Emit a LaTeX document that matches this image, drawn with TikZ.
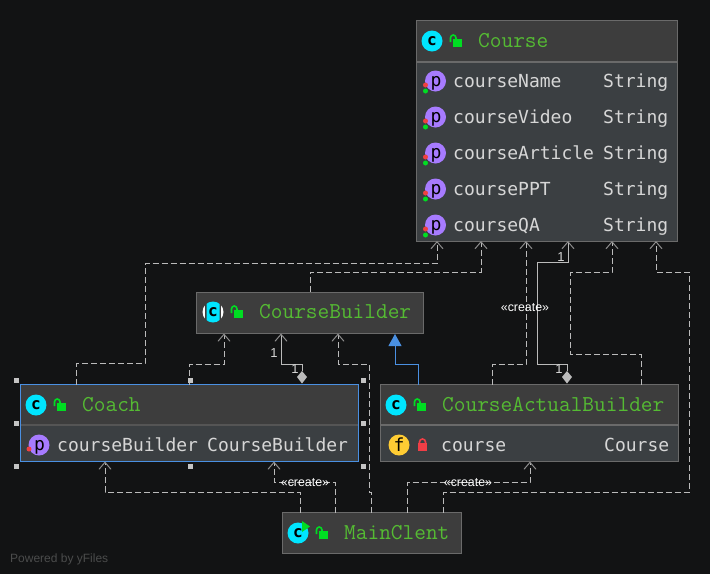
\documentclass[tikz,border=0pt]{standalone}
\usepackage{fontspec}
\setmainfont{Liberation Sans}
\newfontfamily\memberfont{DejaVu Sans Mono}
\usetikzlibrary{arrows.meta}
\definecolor{bgc}{HTML}{121314}
\definecolor{headc}{HTML}{3D3D3D}
\definecolor{bodyc}{HTML}{3B3F42}
\definecolor{edgec}{HTML}{6A6A6A}
\definecolor{linec}{HTML}{BBBBBB}
\definecolor{tipc}{HTML}{8C8C8C}
\definecolor{titlec}{HTML}{55BB33}
\definecolor{memc}{HTML}{D6D6D6}
\definecolor{selc}{HTML}{4A90E2}
\definecolor{cyanc}{HTML}{00E5FF}
\definecolor{purpc}{HTML}{A77BFF}
\definecolor{yelc}{HTML}{FFCC33}
\definecolor{lockg}{HTML}{00DD22}
\definecolor{lockr}{HTML}{F03E46}
\definecolor{dotr}{HTML}{F04040}
\definecolor{handc}{HTML}{C4C4C4}
\tikzset{
  classhead/.style={draw=edgec,fill=headc,line width=1pt,inner sep=0pt,outer sep=0pt,anchor=north west},
  titletext/.style={font=\ttfamily\fontsize{22.7}{24}\selectfont,text=titlec,anchor=base west,inner sep=0pt},
  memtext/.style={font=\memberfont\fontsize{18}{20}\selectfont,text=memc,anchor=base west,inner sep=0pt},
  icontext/.style={font=\memberfont\fontsize{18}{20}\selectfont,text=black,inner sep=0pt,anchor=base},
  iconc/.style={font=\memberfont\bfseries\fontsize{16}{17}\selectfont,text=black,inner sep=0pt,anchor=base},
  dep/.style={draw=linec,line width=1pt,dash pattern=on 6pt off 3pt,-{Straight Barb[length=7pt,width=12pt,color=tipc,line width=1pt]}},
  assoc/.style={draw=linec,line width=1pt,-{Straight Barb[length=7pt,width=12pt,color=tipc,line width=1pt]}},
  inherit/.style={draw=selc,line width=1pt,-{Triangle[length=12pt,width=13pt,color=selc]}},
  diam/.style={fill=linec,draw=none},
  numlabel/.style={font=\fontsize{13}{14}\selectfont,text=memc,inner sep=0pt},
  stereo/.style={font=\fontsize{12.4}{13}\selectfont,text=white,inner sep=0pt},
  handle/.style={fill=handc,draw=none,minimum size=5pt,inner sep=0pt},
}
\newcommand{\lockopen}[2]{%
  \draw[lockg,line width=1.6pt] (#1+18.5,#2+1) -- (#1+18.5,#2-3) arc[start angle=180,end angle=0,x radius=2.75pt,y radius=3pt] -- (#1+24,#2-1);
  \fill[lockg] (#1+21,#2-2) rectangle (#1+29.5,#2+6);
}
\newcommand{\classicon}[3]{%
  \fill[cyanc] (#2,#3) circle[radius=10.5pt];
  \node[iconc] (#1) at (#2,#3+4) {c};
  \lockopen{#2}{#3}
}
\newcommand{\propicon}[3]{%
  \fill[purpc] (#2,#3) circle[radius=10.5pt];
  \node[icontext] (#1) at (#2+.5,#3+5) {p};
  \fill[dotr] (#2-10,#3+4) circle[radius=2.5pt];
}
\newcommand{\greendot}[2]{\fill[lockg] (#1-10,#2+10) circle[radius=2.5pt];}
\begin{document}
\begin{tikzpicture}[x=1pt,y=-1pt]
\useasboundingbox (0,0) rectangle (710,574);
\fill[bgc] (0,0) rectangle (710,574);

% class boxes
\node[classhead,minimum width=261pt,minimum height=220.5pt,fill=bodyc] (course) at (416.5,20.5) {};
\fill[headc] (417.2,21.2) rectangle (676.8,61);
\draw[edgec,line width=1.6pt] (416.5,62) -- (677.5,62);
\node[classhead,minimum width=227pt,minimum height=41.5pt] (builder) at (196.5,292) {};
\node[classhead,minimum width=338pt,minimum height=77pt,fill=bodyc,draw=selc] (coach) at (20.5,384.5) {};
\fill[headc] (21.2,385.2) rectangle (357.8,424);
\draw[edgec!80!black,line width=1.6pt] (21.2,425) -- (357.8,425);
\node[classhead,minimum width=298pt,minimum height=77pt,fill=bodyc] (actual) at (380.5,384.5) {};
\fill[headc] (381.2,385.2) rectangle (677.8,424);
\draw[edgec,line width=1.6pt] (381.2,425) -- (678,425);
\node[classhead,minimum width=179pt,minimum height=41pt] (mainc) at (282,512.5) {};

% connectors
\draw[dep] ([xshift=55.5pt]coach.north west) -- (76,363.5) -- (145,363.5) -- (145,263) -- (437,263) -- ([xshift=20.5pt]course.south west);
\draw[dep] ([xshift=113.5pt]builder.north west) -- (310,272) -- (481,272) -- ([xshift=64.5pt]course.south west);
\draw[dep] ([xshift=168.5pt]coach.north west) -- (189,364) -- (224,364) -- ([xshift=27.5pt]builder.south west);
\draw[assoc] (302,371) -- (302,364) -- (281,364) -- ([xshift=84.5pt]builder.south west);
\fill[diam] (302,371) -- (307,377) -- (302,383.5) -- (297,377) -- cycle;
\draw[dep] ([xshift=89pt]mainc.north west) -- (371,492) -- (369,492) -- (369,364) -- (338,364) -- ([xshift=141.5pt]builder.south west);
\draw[inherit] ([xshift=37.5pt]actual.north west) -- (418,364) -- (395,364) -- ([xshift=198.5pt,yshift=-0.5pt]builder.south west);
\draw[dep] ([xshift=111.5pt]actual.north west) -- (492,364) -- (526,364) -- ([xshift=109.5pt]course.south west);
\draw[assoc] (567,371) -- (567,364) -- (537,364) -- (537,262) -- (568,262) -- ([xshift=151.5pt]course.south west);
\fill[diam] (567,371) -- (572,377) -- (567,383.5) -- (562,377) -- cycle;
\draw[dep] ([xshift=260.5pt]actual.north west) -- (641,354) -- (570,354) -- (570,272) -- (612,272) -- ([xshift=195.5pt]course.south west);
\draw[dep] ([xshift=161pt]mainc.north west) -- (443,492) -- (689,492) -- (689,272) -- (656,272) -- ([xshift=239.5pt]course.south west);
\draw[dep] ([xshift=125pt]mainc.north west) -- (407,482) -- (530,482) -- ([xshift=149.5pt]actual.south west);
\draw[dep] ([xshift=18.5pt]mainc.north west) -- (300.5,492) -- (105,492) -- ([xshift=84.5pt]coach.south west);
\draw[dep] ([xshift=53pt]mainc.north west) -- (335,482) -- (274,482) -- ([xshift=253.5pt]coach.south west);

% connector labels
\node[numlabel] (n1) at (274,353) {1};
\node[numlabel] (n2) at (295,369) {1};
\node[numlabel] (n3) at (561,257) {1};
\node[numlabel] (n4) at (559,369) {1};
\node[stereo] (s1) at (525,308) {«create»};
\node[stereo] (s2) at (305,483) {«create»};
\node[stereo] (s3) at (468,483) {«create»};

% Course
\classicon{ic1}{432}{41}
\node[titletext] (t1) at (478,47) {Course};
\foreach \yy/\nm in {81/courseName,117/courseVideo,153/courseArticle,189/coursePPT,225/courseQA}{
  \propicon{ip\yy}{435.5}{\yy}
  \greendot{435.5}{\yy}
  \node[memtext] at (453,\yy+6) {\nm};
  \node[memtext] at (603,\yy+6) {String};
}

% CourseBuilder
\fill[white] (213,312) circle[radius=10.5pt];
\fill[headc] (205,301) rectangle (221,323);
\begin{scope}
  \clip (206.5,300) rectangle (219.5,324);
  \fill[cyanc] (213,312) circle[radius=10.5pt];
\end{scope}
\node[iconc] (ic2) at (213,316) {c};
\lockopen{213}{312}
\node[titletext] (t2) at (259,318) {CourseBuilder};

% Coach
\classicon{ic3}{36}{405}
\node[titletext] (t3) at (82,411) {Coach};
\propicon{ip6}{39}{445}
\node[memtext] (m61) at (57,451) {courseBuilder};
\node[memtext] (m62) at (207,451) {CourseBuilder};

% CourseActualBuilder
\classicon{ic4}{396}{405}
\node[titletext] (t4) at (442,411) {CourseActualBuilder};
\fill[yelc] (399,445) circle[radius=10.5pt];
\node[icontext] (if) at (399,451) {f};
\draw[lockr,line width=1.6pt] (419.5,443) -- (419.5,442) arc[start angle=180,end angle=0,x radius=3pt,y radius=3pt] -- (425.5,443);
\fill[lockr] (418,443) rectangle (427,451);
\node[memtext] (m71) at (441,451) {course};
\node[memtext] (m72) at (604,451) {Course};

% MainClent
\classicon{ic5}{298}{533}
\fill[lockg] (302,521) -- (310,526.5) -- (302,532) -- cycle;
\node[titletext] (t5) at (344,539) {MainClent};

% selection handles
\foreach \hx/\hy in {16/380,190/380,363/380,16/423,363/423,16/466,190/466,363/466}
  \node[handle] at (\hx,\hy) {};

\node[font=\fontsize{12}{13}\selectfont,text=white!24!bgc,anchor=base west,inner sep=0pt] (pw) at (10,562) {Powered by yFiles};
\end{tikzpicture}
\end{document}
